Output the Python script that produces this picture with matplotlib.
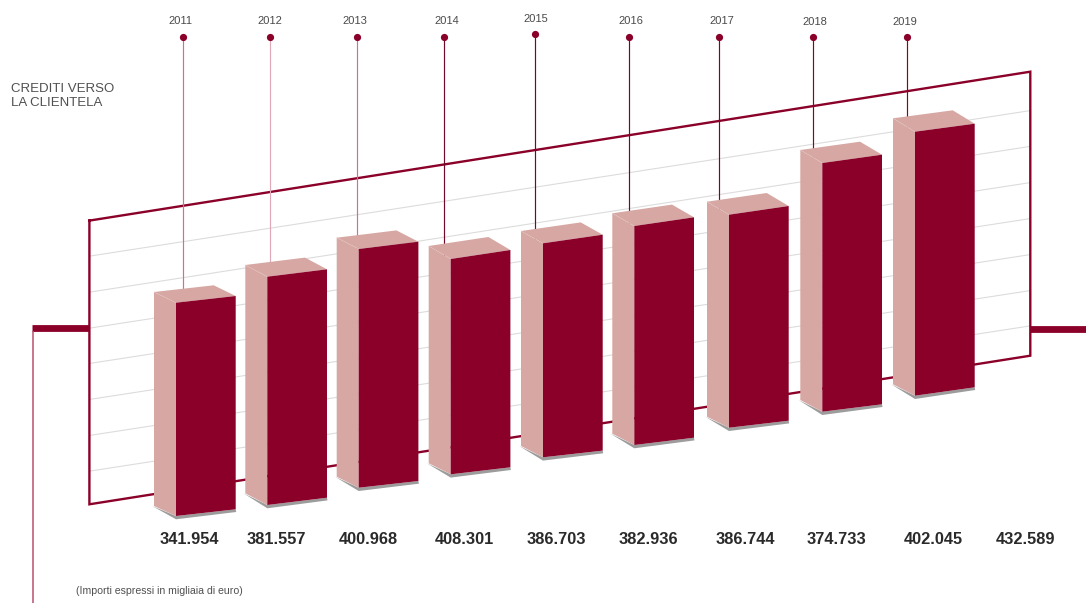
import matplotlib
matplotlib.use("Agg")
import matplotlib.pyplot as plt

# --- chart content ---
years = [2011, 2012, 2013, 2014, 2015, 2016, 2017, 2018, 2019]
value_labels = [341.954, 381.557, 400.968, 408.301, 386.703, 382.936,
                386.744, 374.733, 402.045, 432.589]
title_lines = ["CREDITI VERSO", "LA CLIENTELA"]
note = "(Importi espressi in migliaia di euro)"

# bar front-face heights as drawn, and their baselines on the slanted floor
bar_heights = [213.3, 228.3, 238.7, 215.3, 214.0, 219.0, 213.0, 248.7, 264.0]
bar_bases = [516.0, 505.0, 487.7, 474.3, 457.3, 445.0, 427.7, 411.7, 395.7]

# --- layout (picture coordinates) ---
bar_lefts = [176.0, 267.3, 358.7, 450.7, 543.0, 634.3, 729.0, 822.3, 915.0]
bar_width = 59.7
depth_dx = 22.0
top_rise = [6.7, 7.4, 7.3, 9.0, 8.6, 8.7, 8.7, 8.3, 8.0]
bot_rise = [6.7, 7.3, 6.7, 7.0, 6.7, 7.3, 7.0, 7.4, 8.4]
top_depth = [10.7, 11.7, 11.3, 13.0, 12.3, 12.7, 13.0, 13.0, 13.4]
bot_depth = [10.0, 11.7, 11.0, 11.0, 11.3, 11.3, 11.0, 11.7, 11.4]

stem_x = [183.3, 269.7, 356.5, 443.5, 534.5, 629.0, 719.0, 813.3, 906.5]
dot_y = [36.7, 36.7, 36.7, 36.7, 34.3, 36.7, 36.7, 36.7, 36.7]
year_x = [180.7, 270.0, 355.3, 446.7, 536.3, 631.3, 722.3, 815.3, 905.0]
year_y = [21, 21, 21, 21, 19, 21, 21, 22, 22]
label_x = [189.3, 276.3, 368.3, 464.0, 556.7, 648.3, 745.0, 836.7, 933.0, 1025.0]
grid_left = [256.0, 292.0, 328.0, 363.3, 399.3, 435.3, 471.0]
grid_right = [110.7, 146.5, 182.7, 218.7, 254.7, 290.7, 326.0]

# --- styles ---
CRIMSON = "#8b0029"
SIDE = "#d6a7a3"
SHADOW = "#9c9c9c"
GRID = "#dcdcdc"
stem_colors = ["#c9748f", "#e0a9ba", "#c9748f", "#6f0a2c", "#6f0a2c",
               "#6f0a2c", "#6f0a2c", "#8b0029", "#8b0029"]

fig = plt.figure(figsize=(10.86, 6.03), dpi=100, facecolor="white")
ax = fig.add_axes([0, 0, 1, 1])
ax.set_xlim(0, 1086)
ax.set_ylim(603, 0)
ax.axis("off")

# side rails
ax.plot([32, 89], [328.3, 328.3], color=CRIMSON, lw=4.9, solid_capstyle="butt", zorder=1)
ax.plot([1030, 1086], [328.5, 328.5], color=CRIMSON, lw=4.9, solid_capstyle="butt", zorder=1)
ax.plot([33, 33], [331, 603], color="#b8506e", lw=1.1, solid_capstyle="butt", zorder=1)

# gridlines and slanted frame
for yl, yr in zip(grid_left, grid_right):
    ax.plot([90.5, 1029.5], [yl, yr], color=GRID, lw=0.8, zorder=1)
ax.plot([89.4, 1030.3, 1030.3, 89.4, 89.4],
        [220.6, 71.7, 355.7, 504.3, 220.6],
        color=CRIMSON, lw=1.7, solid_joinstyle="miter", zorder=2)

# year stems with dots
for i, year in enumerate(years):
    top = bar_bases[i] - bar_heights[i]
    ax.plot([stem_x[i], stem_x[i]], [dot_y[i], top], color=stem_colors[i],
            lw=0.85, solid_capstyle="butt", zorder=3)
    ax.plot(stem_x[i], dot_y[i], "o", ms=5.2, color=CRIMSON, mew=0, zorder=4)
    ax.text(year_x[i], year_y[i], str(year), ha="center", va="center",
            fontsize=8, color="#4a4a4a", family="Liberation Sans", zorder=4)

# pseudo-3D bars
for i in range(len(bar_heights)):
    x0 = bar_lefts[i]
    x1 = x0 + bar_width
    xs = x0 - depth_dx
    yb = bar_bases[i]
    yt = yb - bar_heights[i]
    ybr = yb - bot_rise[i]
    ytr = yt - top_rise[i]
    ysb = yb - bot_depth[i]
    yst = yt - top_depth[i]
    # shadow
    ax.fill([xs - 1.8, x0, x1 + 0.5, x1, x0],
            [ysb, yb + 3.3, ybr + 2.7, ybr, yb],
            color=SHADOW, lw=0, zorder=5)
    # side face
    ax.fill([xs, x0, x0, xs], [yst, yt, yb, ysb], color=SIDE, lw=0, zorder=6)
    # top face
    ax.fill([xs, xs + bar_width, x1, x0],
            [yst, yst - top_rise[i], ytr, yt],
            color=SIDE, lw=0, zorder=6)
    ax.plot([xs, x0], [yst, yt], color="#e4c3c0", lw=0.5, ls=(0, (2, 1)), zorder=7)
    # front face
    ax.fill([x0, x1, x1, x0], [yt, ytr, ybr, yb], color=CRIMSON, lw=0, zorder=8)

# value labels
for x, v in zip(label_x, value_labels):
    ax.text(x, 539.5, f"{v:.3f}", ha="center", va="center", fontsize=11.75,
            fontweight="bold", color="#2a2a2a", family="Liberation Sans", zorder=9)

# title and note
for y, line in zip([88.5, 102.5], title_lines):
    ax.text(11, y, line, ha="left", va="center", fontsize=9.5,
            color="#505050", family="Liberation Sans", zorder=9)
ax.text(76, 590.5, note, ha="left", va="center", fontsize=7.6,
        color="#505050", family="Liberation Sans", zorder=9)

fig.savefig("out.png", dpi=100, facecolor="white")
